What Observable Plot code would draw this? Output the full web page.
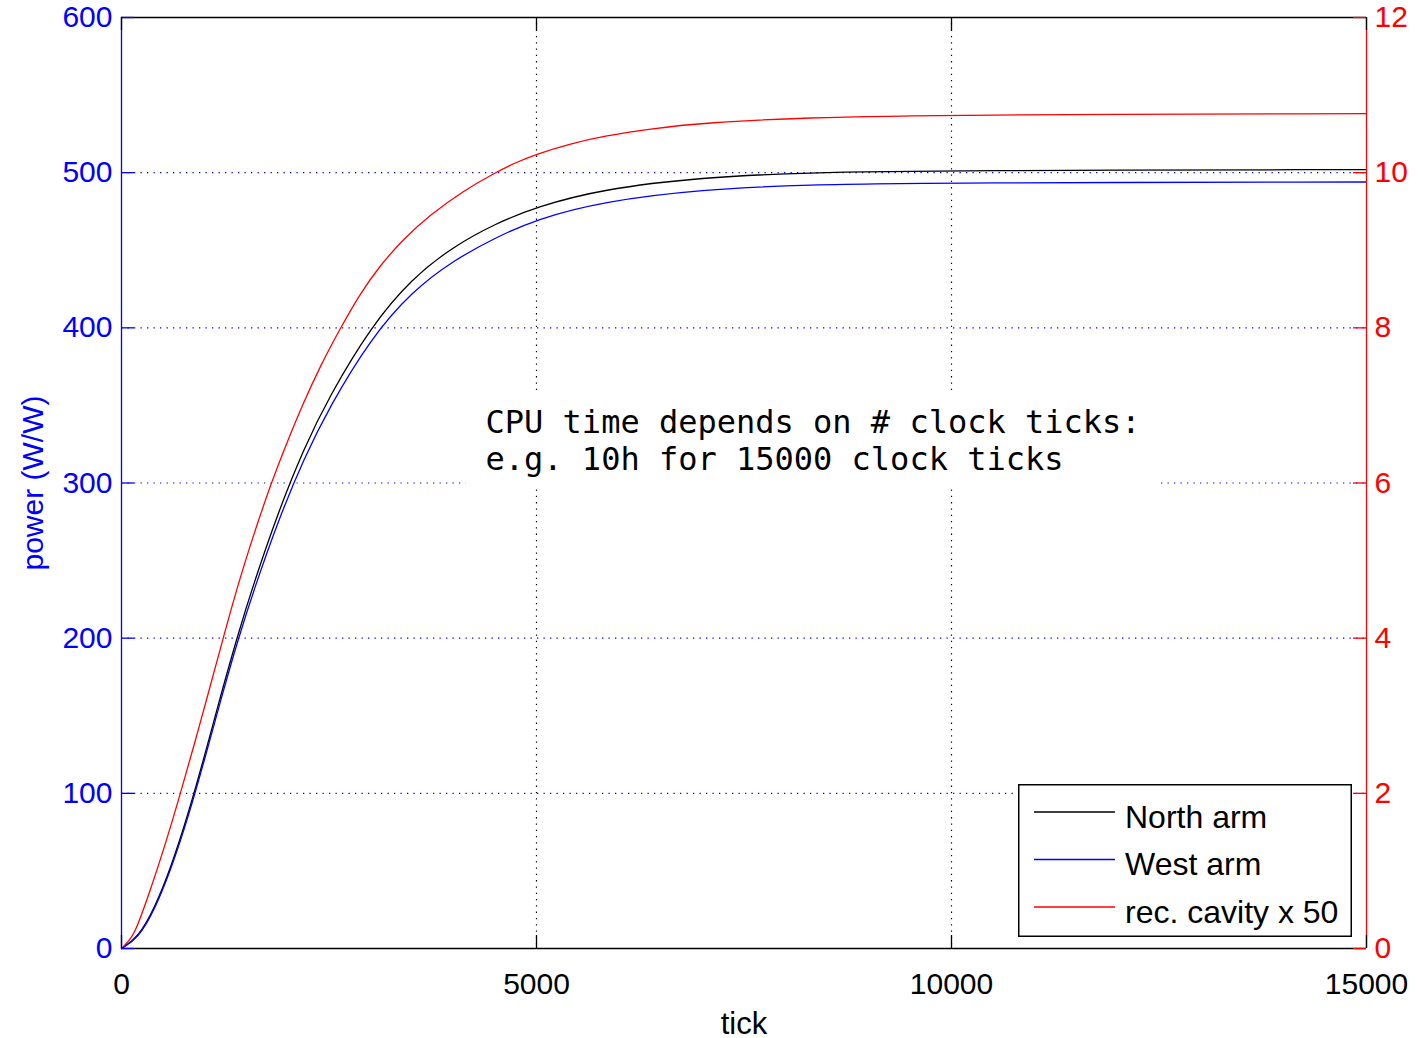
<!DOCTYPE html>
<html><head><meta charset="utf-8">
<script src="https://cdn.jsdelivr.net/npm/d3@7"></script>
<script src="https://cdn.jsdelivr.net/npm/@observablehq/plot@0.6"></script>
<style>
body{margin:0;background:#fff;}
#wrap{position:relative;width:1418px;height:1038px;}
#legend{position:absolute;left:1018px;top:784px;}
</style></head><body><div id="wrap"></div>
<script>
// ---- data ----
const northT = [0,200,400,600,800,1000,1200,1400,1600,1900,2200,2500,3000,3500,4000,4500,5000,5800,7000,8200,10000,15000];
const northV = [0,7,26,53,86,124,164,202,236.5,283,322.5,355.5,400.5,432,452.5,467,478,489.5,497,500,501.4,502];
const westT = [0,200,400,600,800,1000,1200,1400,1600,1900,2200,2500,3000,3500,4000,4500,5000,5800,7000,8200,10000,15000];
const westV = [0,6.5,25,51.5,84,121.5,161,198.5,232,277.5,316,348.5,393,423.5,443.5,458,470,481.5,489.2,492.2,493.5,494];
// rec. cavity power (right axis units; plotted x 50 on the left axis)
const cavityT = [0,80,160,350,510,711,900,1000,1225,1400,1600,1803,2000,2177,2400,2639,2880,3120,3401,3723,4124,4486,4747,5000,5400,5800,6400,7000,8200,10000,15000];
const cavityV = [0,0.09,0.188,0.76,1.28,2.0,2.72,3.11,4.0,4.68,5.36,6.0,6.54,7.0,7.52,8.0,8.45,8.81,9.15,9.46,9.77,9.99,10.13,10.24,10.37,10.47,10.57,10.64,10.71,10.746,10.76];
const cavityScale = 50;

const seriesNames = ["North arm","West arm","rec. cavity x 50"];
const seriesColors = ["#000000","#0000ff","#ff0000"];

const xTicks = [0,5000,10000,15000];
const yTicks = [0,100,200,300,400,500,600];
const rightTicks = [0,2,4,6,8,10,12];
const yGrid = [100,200,300,400,500];
const xGrid = [5000,10000];

const xLabel = "tick";
const yLabel = "power (W/W)";
const note = {x:4386, y:328, text:"CPU time depends on # clock ticks:\ne.g. 10h for 15000 clock ticks"};
const noteBox = {x1:4150, x2:12480, y1:296.4, y2:359.6};

// ---- tables ----
const series = [
  northT.map((t,i)=>({t, v:northV[i]})),
  westT.map((t,i)=>({t, v:westV[i]})),
  cavityT.map((t,i)=>({t, v:cavityV[i]*cavityScale}))
];

const W = 1418, H = 1038, mL = 121, mR = 52, mT = 17, mB = 90;
const fw = W - mL - mR, fh = H - mT - mB, tk = 13;
const sans = '"Liberation Sans", Arial, Helvetica, sans-serif';

const chart = Plot.plot({
  width: W, height: H,
  marginLeft: mL, marginRight: mR, marginTop: mT, marginBottom: mB,
  style: {fontFamily: sans, background: "#fff", overflow: "visible"},
  x: {domain: [0,15000]},
  y: {domain: [0,600]},
  marks: [
    Plot.ruleY(yGrid, {y: d=>d, stroke: "#0000ff", strokeDasharray: "1.3,5.2", strokeWidth: 1.2}),
    Plot.ruleX(xGrid, {x: d=>d, stroke: "#000", strokeDasharray: "1.3,5", strokeWidth: 1.2}),
    Plot.rect([noteBox], {x1:"x1", x2:"x2", y1:"y1", y2:"y2", fill:"#fff"}),
    ...series.map((s,i)=>Plot.line(s, {x:"t", y:"v", stroke: seriesColors[i], strokeWidth: 1.3, curve: "basis"})),
    // frame
    Plot.ruleX([0], {x: d=>d, stroke: "#0000ff", strokeWidth: 1.3}),
    Plot.ruleX([15000], {x: d=>d, stroke: "#ff0000", strokeWidth: 1.3}),
    Plot.ruleY([0], {y: d=>d, stroke: "#000", strokeWidth: 1.3}),
    Plot.ruleY([600], {y: d=>d, stroke: "#000", strokeWidth: 1.3}),
    // inward ticks
    Plot.tickY(yTicks, {y: d=>d, stroke: "#0000ff", strokeWidth: 1.3, insetRight: fw - tk}),
    Plot.tickY(rightTicks.map(d=>d*cavityScale), {y: d=>d, stroke: "#ff0000", strokeWidth: 1.3, insetLeft: fw - tk}),
    Plot.tickX(xTicks, {x: d=>d, stroke: "#000", strokeWidth: 1.3, insetTop: fh - tk}),
    Plot.tickX(xTicks, {x: d=>d, stroke: "#000", strokeWidth: 1.3, insetBottom: fh - tk}),
    // axes
    Plot.axisY(yTicks, {anchor: "left", tickSize: 0, tickPadding: 9, fontSize: 30, color: "#0000ff", label: null, tickFormat: d=>String(d)}),
    Plot.axisY(rightTicks.map(d=>d*cavityScale), {anchor: "right", tickSize: 0, tickPadding: 8, fontSize: 30, color: "#ff0000", label: null, tickFormat: d=>String(d/cavityScale)}),
    Plot.axisX(xTicks, {anchor: "bottom", tickSize: 0, tickPadding: 24, fontSize: 30, color: "#000", label: null, tickFormat: d=>String(d)}),
    // labels
    Plot.text([xLabel], {text: d=>d, frameAnchor: "bottom", dy: 85, fontSize: 31, fill: "#000"}),
    Plot.text([yLabel], {text: d=>d, frameAnchor: "left", textAnchor: "middle", rotate: -90, dx: -88, fontSize: 30, fill: "#0000ff"}),
    Plot.text([note], {x: "x", y: "y", text: "text", textAnchor: "start", lineAnchor: "middle", fontFamily: '"DejaVu Sans Mono", monospace', fontSize: 32, lineHeight: 1.16, fill: "#000"})
  ]
});
const wrap = document.getElementById("wrap");
wrap.appendChild(chart);

// legend (inside the axes, lower right)
const lw = 334, lh = 153;
const leg = d3.select(wrap).append("svg").attr("id","legend").attr("width", lw+2).attr("height", lh+2);
leg.append("rect").attr("x",0.75).attr("y",0.75).attr("width",lw-1.5).attr("height",lh-1.5)
  .attr("fill","#fff").attr("stroke","#000").attr("stroke-width",1.5);
seriesNames.forEach((name,i)=>{
  const y = 28 + i*47.5;
  leg.append("line").attr("x1",16).attr("x2",97).attr("y1",y).attr("y2",y)
    .attr("stroke",seriesColors[i]).attr("stroke-width",1.3);
  leg.append("text").attr("x",107).attr("y",y+15.5).attr("font-family",sans)
    .attr("font-size",32).attr("fill","#000").text(name);
});
</script></body></html>
